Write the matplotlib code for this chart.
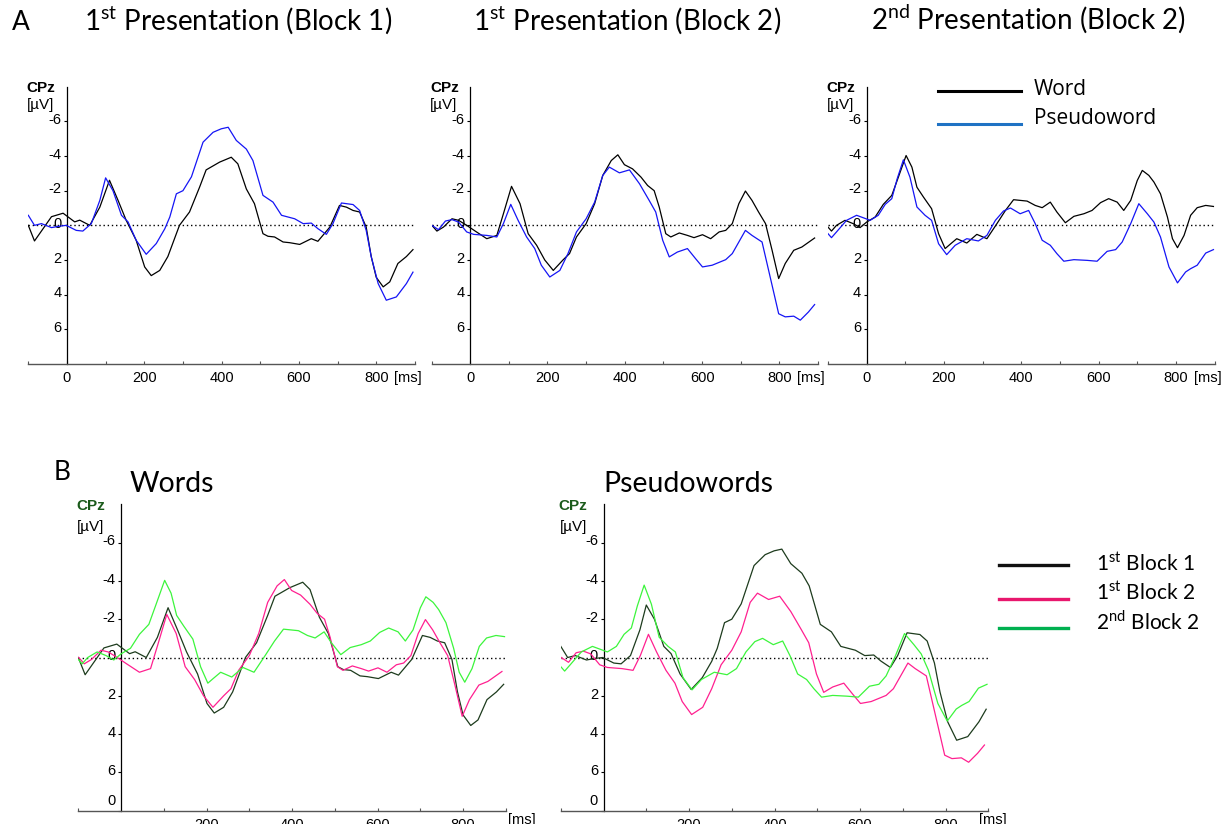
import matplotlib
matplotlib.use("Agg")
import matplotlib.pyplot as plt
from matplotlib.lines import Line2D
from matplotlib.transforms import ScaledTranslation

plt.rcParams["font.family"] = ["Liberation Sans", "DejaVu Sans"]
plt.rcParams["axes.unicode_minus"] = False

# ERP at CPz, time in ms, amplitude in µV (negative plotted upwards)
# word, 1st presentation, block 1
t_w1 = [-100, -84, -40, -10, 20, 33, 59, 85, 110, 132, 153, 179, 201, 218, 240, 261, 291, 317, 343, 360,
        395, 425, 442, 464, 485, 507, 520, 537, 559, 576, 602, 632, 649, 680, 705, 723, 740, 757, 774, 787,
        800, 818, 835, 856, 878, 895]
v_w1 = [0.0, 0.9, -0.5, -0.7, -0.2, -0.3, 0.0, -1.05, -2.6, -1.45, -0.3, 0.86, 2.4, 2.9, 2.6, 1.8, 0.0, -0.77,
        -2.2, -3.2, -3.65, -3.93, -3.55, -2.1, -1.25, 0.48, 0.63, 0.67, 0.96, 1.0, 1.1, 0.77, 0.92, 0.1, -1.15,
        -1.05, -0.86, -0.77, 0.1, 1.8, 3.0, 3.55, 3.26, 2.2, 1.8, 1.4]

# pseudoword, 1st presentation, block 1
t_p1 = [-100, -84, -66, -40, -23, -2, 24, 41, 63, 85, 100, 119, 141, 158, 179, 205, 231, 253, 266, 283, 300,
        322, 352, 378, 399, 417, 438, 464, 481, 507, 533, 555, 589, 611, 632, 649, 671, 688, 710, 740, 757,
        774, 787, 805, 826, 852, 878, 895]
v_p1 = [-0.58, 0.0, -0.1, 0.13, 0.06, 0.0, 0.29, 0.33, -0.1, -1.44, -2.74, -2.0, -0.58, -0.2, 0.86, 1.67,
        1.05, 0.2, -0.48, -1.82, -2.0, -2.8, -4.8, -5.37, -5.57, -5.66, -4.9, -4.4, -3.74, -1.73, -1.34, -0.58,
        -0.38, -0.1, -0.13, 0.19, 0.52, -0.1, -1.29, -1.2, -0.86, 0.29, 1.8, 3.36, 4.32, 4.13, 3.36, 2.7]

# word, 1st presentation, block 2
t_w2 = [-99, -86, -69, -47, -30, -9, 13, 43, 69, 86, 107, 129, 150, 172, 193, 215, 240, 257, 275, 300, 322,
        343, 365, 382, 399, 420, 442, 459, 476, 489, 506, 519, 541, 562, 579, 601, 622, 644, 661, 678, 695,
        712, 729, 746, 764, 781, 798, 815, 837, 858, 891]
v_w2 = [0.0, 0.33, 0.1, -0.38, -0.29, 0.0, 0.33, 0.77, 0.58, -0.67, -2.25, -1.25, 0.48, 1.15, 2.0, 2.6, 2.0,
        1.63, 0.67, -0.1, -1.25, -2.88, -3.74, -4.07, -3.5, -3.26, -2.78, -2.3, -2.0, -1.06, 0.48, 0.67, 0.44,
        0.58, 0.71, 0.54, 0.77, 0.38, 0.29, -0.1, -1.25, -1.98, -1.44, -0.77, -0.1, 1.44, 3.07, 2.2, 1.44,
        1.25, 0.73]

# pseudoword, 1st presentation, block 2
t_p2 = [-99, -82, -64, -47, -30, -9, 9, 43, 69, 86, 105, 124, 146, 167, 184, 206, 232, 253, 275, 300, 322,
        343, 360, 386, 412, 438, 463, 480, 498, 515, 536, 562, 583, 601, 626, 661, 678, 695, 712, 729, 755,
        776, 798, 815, 837, 854, 875, 891]
v_p2 = [0.0, 0.25, -0.25, -0.33, -0.19, 0.38, 0.52, 0.58, 0.67, -0.1, -1.21, -0.29, 0.67, 1.34, 2.3, 2.98,
        2.6, 1.63, 0.38, -0.38, -1.34, -2.88, -3.36, -3.03, -3.2, -2.4, -1.44, -0.77, 0.86, 1.82, 1.54, 1.34,
        1.92, 2.4, 2.3, 1.98, 1.63, 0.96, 0.29, 0.58, 0.96, 2.98, 5.1, 5.28, 5.24, 5.47, 5.0, 4.57]

# word, 2nd presentation, block 2
t_w3 = [-100, -91, -78, -56, -35, -17, 0, 22, 43, 65, 82, 102, 117, 130, 147, 168, 186, 203, 216, 233, 259,
        285, 311, 337, 359, 380, 415, 436, 454, 475, 492, 514, 536, 562, 583, 605, 626, 648, 665, 683, 700,
        713, 730, 743, 760, 778, 791, 804, 821, 838, 855, 877, 897]
v_w3 = [0.1, 0.33, 0.0, -0.29, -0.1, 0.13, -0.19, -0.48, -1.21, -1.73, -2.78, -4.03, -3.36, -2.2, -1.63,
        -0.96, 0.48, 1.34, 1.09, 0.77, 1.02, 0.52, 0.77, -0.1, -0.86, -1.48, -1.4, -1.15, -1.02, -1.34, -0.77,
        -0.15, -0.52, -0.67, -0.86, -1.31, -1.54, -1.34, -0.86, -1.44, -2.59, -3.17, -2.88, -2.5, -1.82, -0.48,
        0.77, 1.29, 0.58, -0.58, -1.02, -1.15, -1.09]

# pseudoword, 2nd presentation, block 2
t_p3 = [-100, -91, -78, -52, -26, -9, 9, 30, 48, 65, 79, 95, 112, 130, 151, 168, 186, 207, 229, 259, 289,
        311, 333, 354, 372, 397, 419, 436, 454, 475, 492, 510, 536, 570, 596, 622, 644, 661, 683, 704, 726,
        743, 760, 782, 804, 825, 838, 855, 877, 897]
v_p3 = [0.48, 0.71, 0.38, -0.29, -0.58, -0.44, -0.29, -0.58, -1.21, -1.54, -2.69, -3.78, -2.78, -1.06,
        -0.58, -0.29, 1.06, 1.69, 1.15, 0.77, 0.9, 0.58, -0.29, -0.83, -1.0, -0.67, -0.86, -0.1, 0.86, 1.15,
        1.63, 2.07, 1.98, 2.02, 2.07, 1.5, 1.4, 0.96, -0.1, -1.25, -0.67, -0.19, 0.67, 2.4, 3.32, 2.69, 2.5,
        2.3, 1.6, 1.4]

top_titles = [r"1$^{\mathregular{st}}$ Presentation (Block 1)",
              r"1$^{\mathregular{st}}$ Presentation (Block 2)",
              r"2$^{\mathregular{nd}}$ Presentation (Block 2)"]
bottom_titles = ["Words", "Pseudowords"]
top_legend = ["Word", "Pseudoword"]
bottom_legend = [r"1$^{\mathregular{st}}$ Block 1", r"1$^{\mathregular{st}}$ Block 2",
                 r"2$^{\mathregular{nd}}$ Block 2"]
y_ticks = [-6, -4, -2, 0, 2, 4, 6]

W, H = 1223, 824
fig = plt.figure(figsize=(W / 100, H / 100), dpi=100)
TICK_FS = 10.5


def fx(x):
    return x / W


def fy(y):
    return 1 - y / H


def panel(left, top, width, height, series, colors, bottom_row):
    ax = fig.add_axes([fx(left), fy(top + height), width / W, height / H])
    ax.set_xlim(-100, 900)
    ax.set_ylim(8, -8)
    for (tt, vv), c in zip(series, colors):
        ax.plot(tt, vv, color=c, lw=0.9, zorder=3)
    ax.axhline(0, color="black", lw=1.0, ls=(0, (1, 2)), zorder=2)

    for s in ("top", "right"):
        ax.spines[s].set_visible(False)
    ax.spines["left"].set_position(("data", 0))
    ax.spines["left"].set_linewidth(0.9)
    ax.spines["bottom"].set_color("#555555")
    ax.spines["bottom"].set_linewidth(1.0)

    if bottom_row:
        ax.set_yticks(y_ticks + [8], labels=[str(v) for v in y_ticks] + ["0"])
        ax.set_xticks([200, 400, 600, 800], labels=["200", "400", "600", "800"])
    else:
        ax.set_yticks(y_ticks, labels=[str(v) for v in y_ticks])
        ax.set_xticks([0, 200, 400, 600, 800], labels=["0", "200", "400", "600", "800"])
    ax.set_xticks(range(-100, 901, 200), minor=True)
    ax.tick_params(axis="y", direction="out", length=2, width=0.8, pad=2, labelsize=TICK_FS)
    ax.tick_params(axis="x", which="both", direction="in", length=2.5, width=0.8,
                   color="#555555", pad=5, labelsize=TICK_FS)
    shift = ScaledTranslation(0, 2 / 72, fig.dpi_scale_trans)
    for lab in ax.get_yticklabels():
        lab.set_transform(lab.get_transform() + shift)
    if bottom_row:
        ax.get_yticklabels()[-1].set_va("bottom")
    return ax


# top row: word vs pseudoword for each presentation
top_lefts = [28.3, 431.5, 828.0]
top_pairs = [((t_w1, v_w1), (t_p1, v_p1)),
             ((t_w2, v_w2), (t_p2, v_p2)),
             ((t_w3, v_w3), (t_p3, v_p3))]
title_centers = [238, 627, 1028]
for left, pair, title, xc in zip(top_lefts, top_pairs, top_titles, title_centers):
    ax = panel(left, 86.7, 386.6, 277.3, pair, ["black", "#1515f5"], False)
    ax.annotate("[ms]", xy=(800, 0), xycoords=ax.get_xaxis_transform(),
                xytext=(13, -5), textcoords="offset points", ha="left", va="top", fontsize=TICK_FS)
    fig.text(fx(left - 1.6), fy(88.3), "CPz", fontsize=11, fontweight="bold", va="center")
    fig.text(fx(left - 1.6), fy(105.5), "[µV]", fontsize=11, va="center")
    fig.text(fx(xc), fy(30), title, family="Lato", fontsize=20, ha="center", va="baseline")

# bottom row: the three conditions per stimulus type
bottom_lefts = [78.3, 560.8]
bottom_sets = [((t_w1, v_w1), (t_w2, v_w2), (t_w3, v_w3)),
               ((t_p1, v_p1), (t_p2, v_p2), (t_p3, v_p3))]
ms_pos = [905, 878]
title_lefts = [130, 603]
for left, sets, title, xl, ms in zip(bottom_lefts, bottom_sets, bottom_titles, title_lefts, ms_pos):
    ax = panel(left, 504.3, 427.5, 306.4, sets, ["#1d3b1d", "#ff2090", "#3cf53c"], True)
    ax.annotate("[ms]", xy=(ms, 0), xycoords=ax.get_xaxis_transform(),
                xytext=(0, -2), textcoords="offset points", ha="left", va="top", fontsize=TICK_FS)
    fig.text(fx(left - 2.3), fy(505.8), "CPz", fontsize=11, fontweight="bold", color="#1a5a1a",
             va="center")
    fig.text(fx(left - 1.3), fy(527.5), "[µV]", fontsize=11, va="center")
    fig.text(fx(xl), fy(491.7), title, family="Lato", fontsize=20.5, ha="left", va="baseline")

fig.text(fx(11.7), fy(30), "A", family="Lato", fontsize=19, va="baseline")
fig.text(fx(53.3), fy(480), "B", family="Lato", fontsize=19, va="baseline")

# legends
for y, label, c, ty in zip([90.7, 124.3], top_legend, ["black", "#1f72c4"], [89.3, 118.3]):
    fig.add_artist(Line2D([fx(938.3), fx(1020.7)], [fy(y), fy(y)], color=c, lw=2.2,
                          transform=fig.transFigure))
    fig.text(fx(1034), fy(ty), label, family="Open Sans", fontsize=15, va="center")

for y, label, c, ty in zip([565, 599, 628.3], bottom_legend, ["#111111", "#e8176d", "#00b050"],
                           [564, 592.7, 621.7]):
    fig.add_artist(Line2D([fx(999.3), fx(1068.3)], [fy(y), fy(y)], color=c, lw=2.4,
                          transform=fig.transFigure))
    fig.text(fx(1096), fy(ty), label, family="Lato", fontsize=15, va="center")

fig.savefig("out.png", dpi=100)
